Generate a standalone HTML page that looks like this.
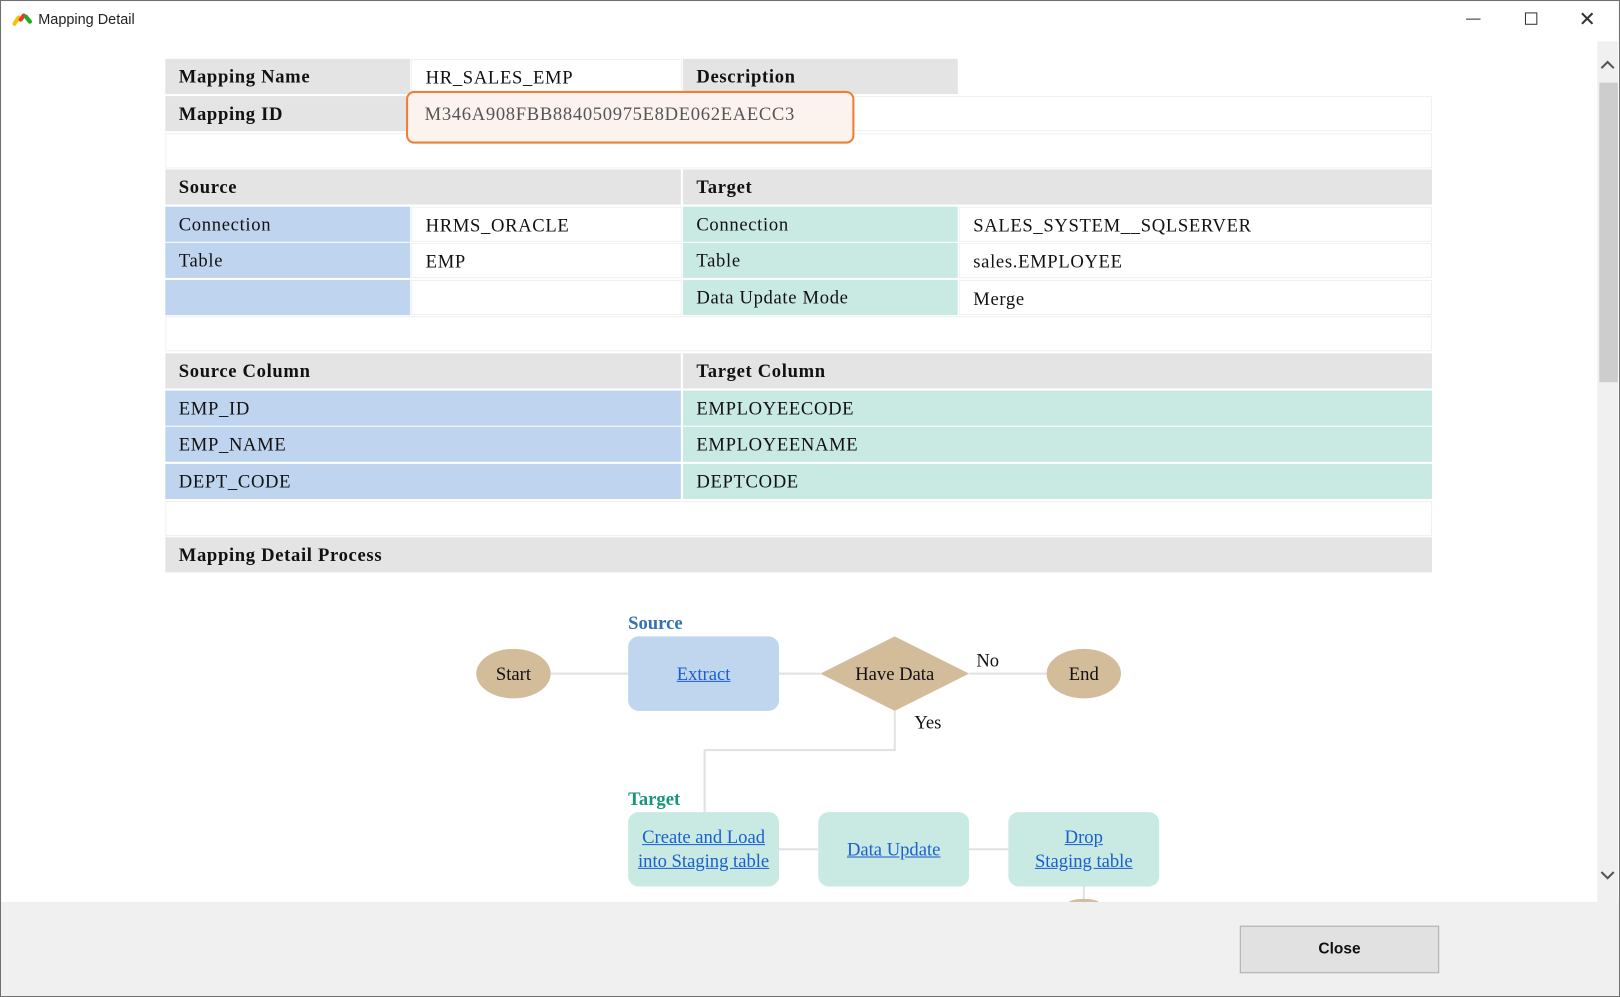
<!DOCTYPE html>
<html><head><meta charset="utf-8"><style>
html,body{margin:0;padding:0;width:1620px;height:997px;overflow:hidden;background:#fff}
#w{position:absolute;left:0;top:0;width:1568px;height:965px;transform:scale(1.03316);transform-origin:0 0;font-family:"Liberation Serif",serif;color:#111}
.a{position:absolute;box-sizing:border-box}
.c{position:absolute;box-sizing:border-box;height:34px;font-size:18px;line-height:34px;padding-left:13px;white-space:nowrap;letter-spacing:0.65px}
.g{background:#e4e4e4;font-weight:bold}
.b{background:#bfd4ee}
.t{background:#c9e9e3}
.w{background:#fff;border:1px solid #f0f0f0}
.lk{color:#1a5fd0;text-decoration:underline}
.node{position:absolute;box-sizing:border-box;display:flex;align-items:center;justify-content:center;text-align:center;font-size:18px;line-height:23px}
.ln{position:absolute;background:#e2e2e2}
</style></head><body><div id="w">
<div class="a" style="left:0;top:0;width:1568px;height:965px;border:1px solid #707070"></div>
<div class="a" style="left:12px;top:10px;width:20px;height:16px">
<svg width="20" height="16"><path d="M2 13 L6 7" stroke="#f5c400" stroke-width="4" stroke-linecap="round"/><path d="M8 9 L11 5" stroke="#e33" stroke-width="4" stroke-linecap="round"/><path d="M13 6 L17 11" stroke="#2a2" stroke-width="4" stroke-linecap="round"/></svg></div>
<div class="a" style="left:37px;top:10px;font-family:'Liberation Sans',sans-serif;font-size:14px;color:#222">Mapping Detail</div>
<div class="a" style="left:1419px;top:18px;width:14px;height:1px;background:#333"></div>
<div class="a" style="left:1476px;top:12px;width:12px;height:12px;border:1px solid #333"></div>
<div class="a" style="left:1528px;top:6px;font-family:'Liberation Sans',sans-serif;font-size:20px;color:#333">✕</div>
<div class="a" style="left:1546px;top:40px;width:20px;height:833px;background:#f0f0f0"></div>
<div class="a" style="left:1548px;top:80px;width:18px;height:290px;background:#cdcdcd"></div>
<svg class="a" style="left:1549px;top:58px" width="14" height="10"><path d="M1 8 L7 2 L13 8" fill="none" stroke="#555" stroke-width="2"/></svg>
<svg class="a" style="left:1549px;top:842px" width="14" height="10"><path d="M1 2 L7 8 L13 2" fill="none" stroke="#555" stroke-width="2"/></svg>

<div class="c g" style="left:160px;top:57px;width:237px">Mapping Name</div>
<div class="c w" style="left:398px;top:57px;width:262px">HR_SALES_EMP</div>
<div class="c g" style="left:661px;top:57px;width:266px">Description</div>
<div class="c g" style="left:160px;top:93px;width:237px">Mapping ID</div>
<div class="c w" style="left:398px;top:93px;width:988px"></div>
<div class="c w" style="left:160px;top:129px;width:1226px"></div>
<div class="c g" style="left:160px;top:164px;width:499px">Source</div>
<div class="c g" style="left:661px;top:164px;width:725px">Target</div>
<div class="c b" style="left:160px;top:200px;width:237px">Connection</div>
<div class="c w" style="left:398px;top:200px;width:262px">HRMS_ORACLE</div>
<div class="c t" style="left:661px;top:200px;width:266px">Connection</div>
<div class="c w" style="left:928px;top:200px;width:458px">SALES_SYSTEM__SQLSERVER</div>
<div class="c b" style="left:160px;top:235px;width:237px">Table</div>
<div class="c w" style="left:398px;top:235px;width:262px">EMP</div>
<div class="c t" style="left:661px;top:235px;width:266px">Table</div>
<div class="c w" style="left:928px;top:235px;width:458px">sales.EMPLOYEE</div>
<div class="c b" style="left:160px;top:271px;width:237px"></div>
<div class="c w" style="left:398px;top:271px;width:262px"></div>
<div class="c t" style="left:661px;top:271px;width:266px">Data Update Mode</div>
<div class="c w" style="left:928px;top:271px;width:458px">Merge</div>
<div class="c w" style="left:160px;top:306px;width:1226px"></div>
<div class="c g" style="left:160px;top:342px;width:499px">Source Column</div>
<div class="c g" style="left:661px;top:342px;width:725px">Target Column</div>
<div class="c b" style="left:160px;top:378px;width:499px">EMP_ID</div>
<div class="c t" style="left:661px;top:378px;width:725px">EMPLOYEECODE</div>
<div class="c b" style="left:160px;top:413px;width:499px">EMP_NAME</div>
<div class="c t" style="left:661px;top:413px;width:725px">EMPLOYEENAME</div>
<div class="c b" style="left:160px;top:449px;width:499px">DEPT_CODE</div>
<div class="c t" style="left:661px;top:449px;width:725px">DEPTCODE</div>
<div class="c w" style="left:160px;top:485px;width:1226px"></div>
<div class="c g" style="left:160px;top:520px;width:1226px">Mapping Detail Process</div>
<div class="a" style="left:393px;top:88px;width:434px;height:51px;border:2px solid #ee7f35;border-radius:8px;background:#fdf3ee"></div>
<div class="c" style="left:398px;top:93px;color:#555;line-height:34px">M346A908FBB884050975E8DE062EAECC3</div>

<div class="ln" style="left:533px;top:651px;width:75px;height:2px"></div>
<div class="ln" style="left:754px;top:651px;width:40px;height:2px"></div>
<div class="ln" style="left:938px;top:651px;width:76px;height:2px"></div>
<div class="ln" style="left:865px;top:688px;width:2px;height:38px"></div>
<div class="ln" style="left:681px;top:725px;width:186px;height:2px"></div>
<div class="ln" style="left:681px;top:725px;width:2px;height:61px"></div>
<div class="ln" style="left:754px;top:821px;width:38px;height:2px"></div>
<div class="ln" style="left:938px;top:821px;width:38px;height:2px"></div>
<div class="ln" style="left:1048px;top:858px;width:2px;height:15px"></div>
<div class="a" style="left:1033px;top:870px;width:32px;height:10px;border-radius:50%;background:#d3bc9a"></div>

<div class="node" style="left:461px;top:628px;width:72px;height:48px;border-radius:50%;background:#d3bc9a">Start</div>
<div class="a" style="left:608px;top:593px;font-size:18px;font-weight:bold;color:#3570b0">Source</div>
<div class="node" style="left:608px;top:616px;width:146px;height:72px;border-radius:10px;background:#bfd6ee"><span class="lk">Extract</span></div>
<svg class="a" style="left:794px;top:616px" width="144" height="72"><polygon points="72,0 144,36 72,72 0,36" fill="#d3bc9a"/></svg>
<div class="node" style="left:794px;top:616px;width:144px;height:72px">Have Data</div>
<div class="a" style="left:945px;top:629px;font-size:18px">No</div>
<div class="a" style="left:885px;top:689px;font-size:18px">Yes</div>
<div class="node" style="left:1013px;top:628px;width:72px;height:48px;border-radius:50%;background:#d3bc9a">End</div>
<div class="a" style="left:608px;top:763px;font-size:18px;font-weight:bold;color:#16967a">Target</div>
<div class="node" style="left:608px;top:786px;width:146px;height:72px;border-radius:10px;background:#c9e9e3"><span class="lk">Create and Load<br>into Staging table</span></div>
<div class="node" style="left:792px;top:786px;width:146px;height:72px;border-radius:10px;background:#c9e9e3"><span class="lk">Data Update</span></div>
<div class="node" style="left:976px;top:786px;width:146px;height:72px;border-radius:10px;background:#c9e9e3"><span class="lk">Drop<br>Staging table</span></div>

<div class="a" style="left:1px;top:873px;width:1566px;height:91px;background:#f0f0f0"></div>
<div class="a" style="left:1200px;top:896px;width:193px;height:46px;background:#e1e1e1;border:1px solid #adadad;font-family:'Liberation Sans',sans-serif;font-weight:bold;font-size:15px;text-align:center;line-height:44px">Close</div>
</div></body></html>
